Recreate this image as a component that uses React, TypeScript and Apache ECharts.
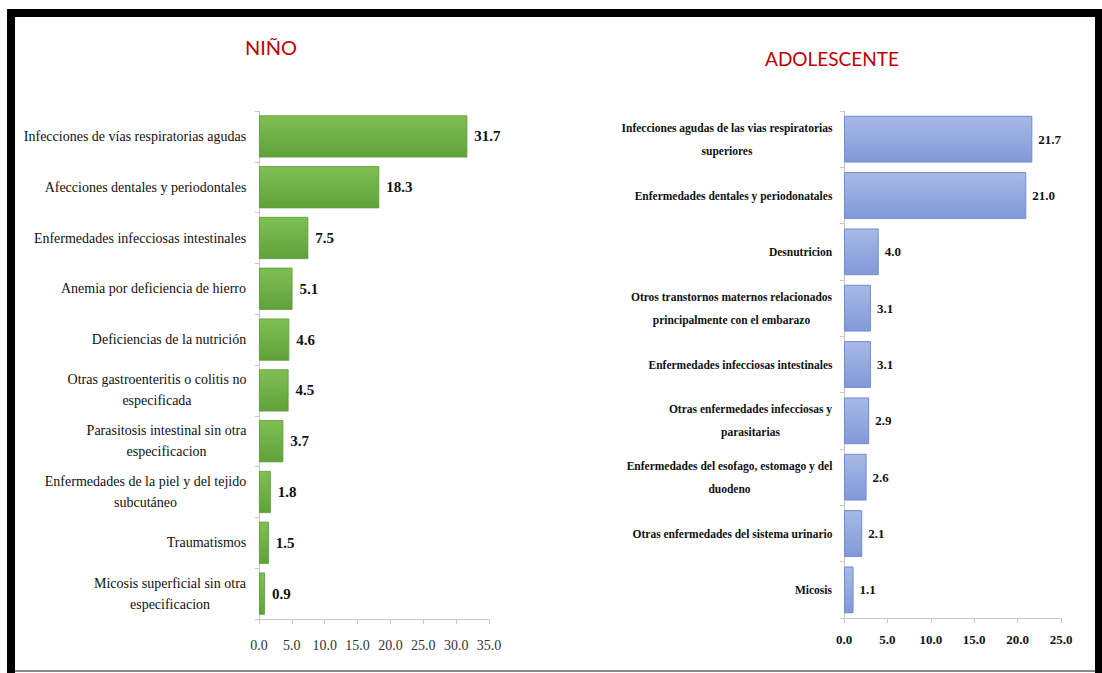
import React, { useEffect, useRef } from "react";
import * as echarts from "echarts";

const ninoCategories = [
  "Infecciones de vías respiratorias agudas",
  "Afecciones dentales y periodontales",
  "Enfermedades infecciosas intestinales",
  "Anemia por deficiencia de hierro",
  "Deficiencias de la nutrición",
  "Otras gastroenteritis o colitis no\nespecificada",
  "Parasitosis intestinal sin otra\nespecificacion",
  "Enfermedades de la piel y del tejido\nsubcutáneo",
  "Traumatismos",
  "Micosis superficial sin otra\nespecificacion",
];
const ninoValues = [31.7, 18.3, 7.5, 5.1, 4.6, 4.5, 3.7, 1.8, 1.5, 0.9];
const ninoTicks = [0, 5, 10, 15, 20, 25, 30, 35];

const adolCategories = [
  "Infecciones agudas de las vias respiratorias\nsuperiores",
  "Enfermedades dentales y periodonatales",
  "Desnutricion",
  "Otros transtornos maternos relacionados\nprincipalmente con el embarazo",
  "Enfermedades infecciosas intestinales",
  "Otras enfermedades infecciosas y\nparasitarias",
  "Enfermedades del esofago, estomago y del\nduodeno",
  "Otras enfermedades del sistema urinario",
  "Micosis",
];
const adolValues = [21.7, 21.0, 4.0, 3.1, 3.1, 2.9, 2.6, 2.1, 1.1];
const adolTicks = [0, 5, 10, 15, 20, 25];

const titles = ["NIÑO", "ADOLESCENTE"];

const SERIF = "'Liberation Serif', 'Times New Roman', serif";

function measureMax(text: string, font: string): number {
  const c = document.createElement("canvas");
  const ctx = c.getContext("2d");
  if (!ctx) return 200;
  ctx.font = font;
  return Math.max(...text.split("\n").map((l) => ctx.measureText(l).width));
}

function buildRich(labels: string[], fontSize: number, weight: string, lineHeight: number, color: string) {
  const rich: Record<string, any> = {};
  labels.forEach((l, i) => {
    const w = Math.ceil(measureMax(l, `${weight} ${fontSize}px 'Liberation Serif'`)) + 1;
    rich["c" + i] = {
      width: w,
      align: "center",
      fontSize,
      fontWeight: weight,
      fontFamily: SERIF,
      lineHeight,
      color,
    };
  });
  return rich;
}

export default function App() {
  const ref = useRef<HTMLDivElement>(null);

  useEffect(() => {
    if (!ref.current) return;
    const chart = echarts.init(ref.current, undefined, { renderer: "svg" });

    const greenGrad = new echarts.graphic.LinearGradient(0, 0, 0, 1, [
      { offset: 0, color: "#7fbf52" },
      { offset: 1, color: "#61a13c" },
    ]);
    const blueGrad = new echarts.graphic.LinearGradient(0, 0, 0, 1, [
      { offset: 0, color: "#a7b9e6" },
      { offset: 1, color: "#8299d8" },
    ]);

    const ninoRich = buildRich(ninoCategories, 14, "normal", 21, "#111");
    const adolRich = buildRich(adolCategories, 11.5, "bold", 23, "#111");

    chart.setOption({
      animation: false,
      backgroundColor: "#ffffff",
      graphic: [
        { type: "rect", shape: { x: 7, y: 9, width: 1095, height: 8 }, style: { fill: "#000" } },
        { type: "rect", shape: { x: 7, y: 9, width: 8, height: 664 }, style: { fill: "#000" } },
        { type: "rect", shape: { x: 1095, y: 9, width: 7, height: 664 }, style: { fill: "#000" } },
        { type: "rect", shape: { x: 15, y: 670, width: 1080, height: 2 }, style: { fill: "#8a8a8a" } },
        {
          type: "text",
          x: 271,
          y: 47,
          style: {
            text: titles[0],
            fill: "#c00000",
            font: "20px Lato, 'Open Sans', sans-serif",
            textAlign: "center",
            textVerticalAlign: "middle",
          },
        },
        {
          type: "text",
          x: 832,
          y: 58,
          style: {
            text: titles[1],
            fill: "#c00000",
            font: "19px Lato, 'Open Sans', sans-serif",
            textAlign: "center",
            textVerticalAlign: "middle",
          },
        },
      ],
      grid: [
        { left: 259, top: 111, width: 230, height: 508 },
        { left: 844, top: 111, width: 217, height: 507 },
      ],
      xAxis: [
        {
          gridIndex: 0,
          type: "value",
          min: ninoTicks[0],
          max: ninoTicks[ninoTicks.length - 1],
          interval: 5,
          splitLine: { show: false },
          axisLine: { show: true, lineStyle: { color: "#c8c8c8", width: 1 } },
          axisTick: { show: true, length: 5, lineStyle: { color: "#c8c8c8" } },
          axisLabel: {
            margin: 19,
            fontFamily: SERIF,
            fontSize: 14,
            color: "#333",
            formatter: (v: number) => v.toFixed(1),
          },
        },
        {
          gridIndex: 1,
          type: "value",
          min: adolTicks[0],
          max: adolTicks[adolTicks.length - 1],
          interval: 5,
          splitLine: { show: false },
          axisLine: { show: true, lineStyle: { color: "#c8c8c8", width: 1 } },
          axisTick: { show: true, length: 5, lineStyle: { color: "#c8c8c8" } },
          axisLabel: {
            margin: 15,
            fontFamily: SERIF,
            fontSize: 13,
            fontWeight: "bold",
            color: "#111",
            formatter: (v: number) => v.toFixed(1),
          },
        },
      ],
      yAxis: [
        {
          gridIndex: 0,
          type: "category",
          data: ninoCategories,
          inverse: true,
          axisLine: { show: true, lineStyle: { color: "#c8c8c8" } },
          axisTick: { show: true, length: 4, lineStyle: { color: "#c8c8c8" } },
          axisLabel: {
            margin: 12,
            interval: 0,
            formatter: (v: string, i: number) => `{c${i}|${v}}`,
            rich: ninoRich,
          },
        },
        {
          gridIndex: 1,
          type: "category",
          data: adolCategories,
          inverse: true,
          axisLine: { show: true, lineStyle: { color: "#c8c8c8" } },
          axisTick: { show: true, length: 4, lineStyle: { color: "#c8c8c8" } },
          axisLabel: {
            margin: 11,
            interval: 0,
            formatter: (v: string, i: number) => `{c${i}|${v}}`,
            rich: adolRich,
          },
        },
      ],
      series: [
        {
          type: "bar",
          xAxisIndex: 0,
          yAxisIndex: 0,
          data: ninoValues,
          barCategoryGap: "17%",
          itemStyle: { color: greenGrad, borderColor: "#5c9a38", borderWidth: 0.8 },
          label: {
            show: true,
            position: "right",
            distance: 7,
            fontFamily: SERIF,
            fontWeight: "bold",
            fontSize: 15,
            color: "#111",
            formatter: (p: any) => Number(p.value).toFixed(1),
          },
        },
        {
          type: "bar",
          xAxisIndex: 1,
          yAxisIndex: 1,
          data: adolValues,
          barCategoryGap: "17%",
          itemStyle: { color: blueGrad, borderColor: "#6f8bd2", borderWidth: 1 },
          label: {
            show: true,
            position: "right",
            distance: 6,
            fontFamily: SERIF,
            fontWeight: "bold",
            fontSize: 13,
            color: "#111",
            formatter: (p: any) => Number(p.value).toFixed(1),
          },
        },
      ],
    });

    return () => chart.dispose();
  }, []);

  return (
    <div
      ref={ref}
      style={{ position: "absolute", left: 0, top: 0, width: 1102, height: 673, background: "#fff" }}
    />
  );
}
